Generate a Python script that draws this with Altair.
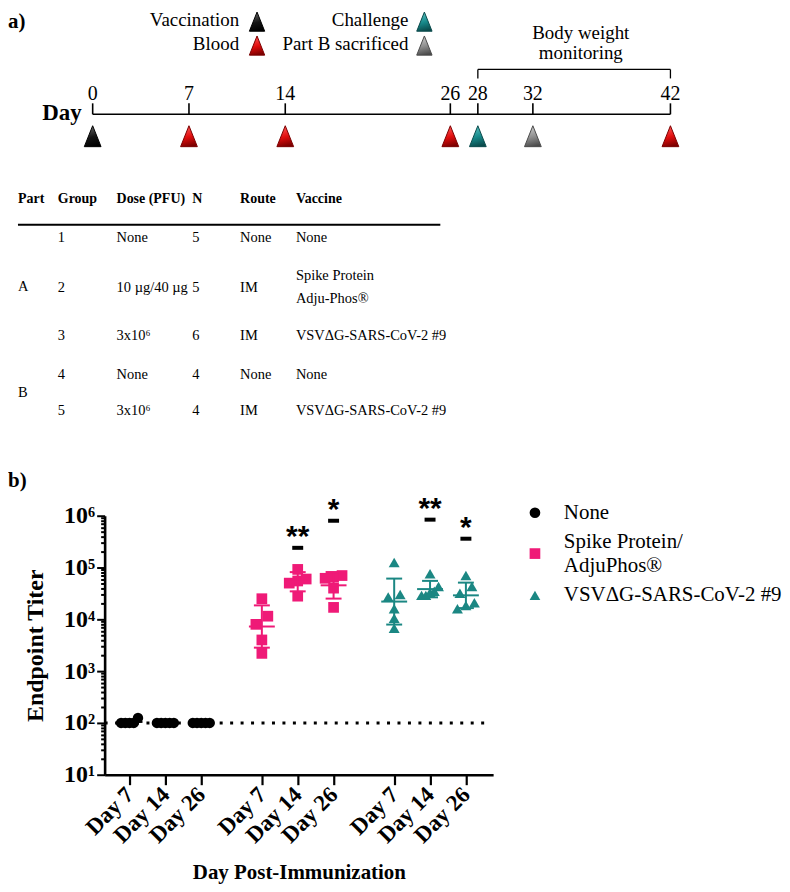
import json
import altair as alt
import pandas as pd

# ---------------- data ----------------
timeline_days = [0, 7, 14, 26, 28, 32, 42]
timeline_events = ["Vaccination", "Blood", "Blood", "Blood", "Challenge", "Part B sacrificed", "Blood"]
event_names = ["Vaccination", "Blood", "Challenge", "Part B sacrificed"]
event_colors = ["#151515", "#e00d0d", "#17898a", "#8e8e8e"]
event_lights = ["#6a6a6a", "#ff5a5a", "#5cc4c4", "#cfcfcf"]
event_edges = ["#000000", "#7a0000", "#0a4a4b", "#4a4a4a"]
monitoring_window = [28, 42]
monitoring_label = ["Body weight", "monitoring"]

table_header = ["Part", "Group", "Dose (PFU)", "N", "Route", "Vaccine"]
table_group = ["1", "2", "3", "4", "5"]
table_dose = ["None", "10 µg/40 µg", "3x10⁶", "None", "3x10⁶"]
table_n = ["5", "5", "6", "4", "4"]
table_route = ["None", "IM", "IM", "None", "IM"]
table_vaccine = ["None", "Spike Protein\nAdju-Phos®", "VSVΔG-SARS-CoV-2 #9", "None", "VSVΔG-SARS-CoV-2 #9"]
table_parts = ["A", "B"]
table_part_rows = [[0, 1, 2], [3, 4]]

groups = ["None", "Spike Protein/AdjuPhos®", "VSVΔG-SARS-CoV-2 #9"]
group_colors = ["#000000", "#ef1a77", "#1b8783"]
group_shapes = ["circle", "square", "triangle-up"]
day_labels = ["Day 7", "Day 14", "Day 26"]
titer_none = [[125, 100, 100, 100, 100], [100, 100, 100, 100, 100], [100, 100, 100, 100, 100]]
titer_spike = [[25000, 11500, 8000, 4000, 2200],
               [92000, 55000, 50000, 60000, 28000],
               [70000, 65000, 62000, 40000, 17000]]
titer_vsv = [[125000, 30000, 27000, 16000, 10500, 6700],
             [76000, 43000, 35000, 29000, 29000, 33000],
             [70000, 43000, 32000, 21000, 16000, 18500]]
limit_of_detection = 100
sig_group = [1, 1, 2, 2]
sig_day = [1, 2, 1, 2]
sig_text = ["**", "*", "**", "*"]
sig_height = [240000, 800000, 840000, 360000]

# ---------------- layout ----------------
SERIF = "Liberation Serif"
ORIGIN_X = 105
A_TOP = 11
B_TOP = 515


def ax(p):
    return p - ORIGIN_X


def ay(p):
    return p - A_TOP


def by(p):
    return p - B_TOP


TRI = "M0,-1L0.8,1L-0.8,1Z"


def bevel(i):
    return {"gradient": "linear", "x1": 0.3, "y1": 0, "x2": 0.5, "y2": 1,
            "stops": [{"offset": 0, "color": event_lights[i]},
                      {"offset": 0.55, "color": event_colors[i]},
                      {"offset": 1, "color": event_edges[i]}]}


# ================= panel a =================
x_days = alt.Scale(domain=[min(timeline_days), max(timeline_days)], range=[ax(93), ax(673)])
df_tl = pd.DataFrame({"day": timeline_days, "event": timeline_events})


def XD(field):
    return alt.X(field, scale=x_days, axis=None)


def text_mark(**kw):
    base = dict(font=SERIF, color="black", baseline="middle")
    base.update(kw)
    return base


a_layers = []
a_layers.append(alt.Chart(df_tl).mark_rule(color="black", strokeWidth=1.6).encode(
    x=XD("min(day):Q"), x2="max(day):Q", y=alt.value(ay(115))))
a_layers.append(alt.Chart(df_tl).mark_rule(color="black", strokeWidth=1.6).encode(
    x=XD("day:Q"), y=alt.value(ay(104)), y2=alt.value(ay(115))))
a_layers.append(alt.Chart(df_tl).mark_text(**text_mark(fontSize=20)).encode(
    x=XD("day:Q"), y=alt.value(ay(95)), text="day:Q"))
for i, name in enumerate(event_names):
    a_layers.append(alt.Chart(df_tl).transform_filter(alt.datum.event == name).mark_point(
        shape=TRI, filled=True, size=441, opacity=1, fill=bevel(i), stroke=event_edges[i],
        strokeWidth=1.0).encode(x=XD("day:Q"), y=alt.value(ay(137))))

# key of events (first row is pinned to the top edge of the panel)
key_text_right = [240, 410]
key_tri_x = [258, 426]
key_text_rel_y = [0, ay(44)]
key_text_base = ["top", "middle"]
key_tri_rel_y = [11, ay(46)]
for i, name in enumerate(event_names):
    col, row = i // 2, i % 2
    d1 = pd.DataFrame({"t": [name]})
    a_layers.append(alt.Chart(d1).mark_text(**text_mark(align="right", fontSize=19,
                                                        baseline=key_text_base[row])).encode(
        x=alt.value(ax(key_text_right[col])), y=alt.value(key_text_rel_y[row]), text="t:N"))
    a_layers.append(alt.Chart(d1).mark_point(shape=TRI, filled=True, size=370, opacity=1,
                                             fill=bevel(i), stroke=event_edges[i],
                                             strokeWidth=1.0).encode(
        x=alt.value(ax(key_tri_x[col])), y=alt.value(key_tri_rel_y[row])))

# monitoring bracket
df_mon = pd.DataFrame({"day": monitoring_window})
a_layers.append(alt.Chart(df_mon).mark_rule(color="black", strokeWidth=1.3).encode(
    x=XD("min(day):Q"), x2="max(day):Q", y=alt.value(ay(70))))
a_layers.append(alt.Chart(df_mon).mark_rule(color="black", strokeWidth=1.3).encode(
    x=XD("day:Q"), y=alt.value(ay(70)), y2=alt.value(ay(79))))
for j, line in enumerate(monitoring_label):
    a_layers.append(alt.Chart(pd.DataFrame({"t": [line]})).mark_text(
        **text_mark(fontSize=19, align="center")).encode(
        x=alt.value(ax(583)), y=alt.value(ay(33 + 20 * j)), text="t:N"))

a_layers.append(alt.Chart(pd.DataFrame({"t": ["Day"]})).mark_text(
    **text_mark(fontSize=23, fontWeight="bold", align="right")).encode(
    x=alt.value(ax(82)), y=alt.value(ay(114)), text="t:N"))
a_layers.append(alt.Chart(pd.DataFrame({"t": ["a)"]})).mark_text(
    **text_mark(fontSize=21, fontWeight="bold", align="left", baseline="top")).encode(
    x=alt.value(ax(8)), y=alt.value(0), text="t:N"))

# table
col_x = [18, 58, 117, 193, 241, 297]
header_y = 200
rule_y = 226
row_y = [239, 289, 338, 377, 413]
TFS = 14.5
LH = 23

df_head = pd.DataFrame({"t": table_header, "i": list(range(len(table_header)))})
a_layers.append(alt.Chart(df_head).transform_calculate(
    tx=f"{json.dumps([ax(v) for v in col_x])}[datum.i]"
).mark_text(**text_mark(fontSize=14, fontWeight="bold", align="left")).encode(
    x=alt.X("tx:Q", scale=None), y=alt.value(ay(header_y)), text="t:N"))
a_layers.append(alt.Chart(pd.DataFrame({"t": [0]})).mark_rule(color="black", strokeWidth=2).encode(
    x=alt.value(ax(18)), x2=alt.value(ax(442)), y=alt.value(ay(rule_y))))

df_table = pd.DataFrame({"row": list(range(len(table_group))), "group": table_group, "dose": table_dose,
                         "n": table_n, "route": table_route, "vaccine": table_vaccine})
row_expr = f"{json.dumps([ay(v) for v in row_y])}[datum.row]"
for field, cx in zip(["group", "dose", "n", "route", "vaccine"], col_x[1:]):
    a_layers.append(alt.Chart(df_table).transform_calculate(
        ty=f"{row_expr} - (length(split(datum.{field}, '\\n')) - 1) * {LH / 2}"
    ).mark_text(**text_mark(fontSize=TFS, align="left", lineBreak="\n", lineHeight=LH)).encode(
        x=alt.value(ax(cx)), y=alt.Y("ty:Q", scale=None), text=f"{field}:N"))

part_y = [sum(row_y[r] for r in rows) / len(rows) for rows in table_part_rows]
df_parts = pd.DataFrame({"part": table_parts, "i": [0, 1]})
a_layers.append(alt.Chart(df_parts).transform_calculate(
    ty=f"{json.dumps([ay(v) for v in part_y])}[datum.i]"
).mark_text(**text_mark(fontSize=TFS, align="left")).encode(
    x=alt.value(ax(col_x[0])), y=alt.Y("ty:Q", scale=None), text="part:N"))

panel_a = alt.layer(*a_layers).resolve_scale(x="independent", y="independent").properties(
    width=670, height=461)

# ================= panel b =================
rows = []
for gi, series in enumerate([titer_none, titer_spike, titer_vsv]):
    for di, vals in enumerate(series):
        for v in vals:
            rows.append({"group": groups[gi], "g": gi, "d": di, "value": v})
df_pts = pd.DataFrame(rows)

GAP = 3.69
UNIT_PX = 36.0
WIDTH_B = 390
HEIGHT_B = 260
XMIN = -25 / UNIT_PX
XMAX = XMIN + WIDTH_B / UNIT_PX
pos_expr = f"datum.g * {GAP} + datum.d"
CLOSE = 0.17  # decades: points closer than this are spread sideways

tick_vals = [g * GAP + d for g in range(3) for d in range(3)]
tick_labels = day_labels * 3
x_label_expr = (f"{json.dumps(tick_labels)}[indexof({json.dumps([round(v * 100) for v in tick_vals])}, "
                f"round(datum.value * 100))]")

x_scale = alt.Scale(domain=[XMIN, XMAX], nice=False, zero=False)
x_axis = alt.Axis(values=tick_vals, labelExpr=x_label_expr, labelAngle=-45, labelAlign="right",
                  labelBaseline="middle", labelFont=SERIF, labelFontSize=23, labelFontWeight="bold",
                  labelColor="black", labelPadding=6, labelOverlap=False, labelBound=False,
                  tickSize=10, tickWidth=2.2, tickColor="black",
                  domainWidth=2.6, domainColor="black", grid=False, title="Day Post-Immunization",
                  titleFont=SERIF, titleFontSize=21, titleFontWeight="bold", titleColor="black",
                  titlePadding=14)

sups = ["⁰", "¹", "²", "³", "⁴", "⁵", "⁶"]
major_test = "abs(log(datum.value)/LN10 - round(log(datum.value)/LN10)) < 0.001"
y_label_expr = f"{major_test} ? '10' + {json.dumps(sups, ensure_ascii=False)}[round(log(datum.value)/LN10)] : ''"
y_values = [k * 10 ** e for e in range(1, 6) for k in range(1, 10)] + [10 ** 6]
y_scale = alt.Scale(type="log", domain=[10, 10 ** 6], nice=False)
y_axis = alt.Axis(values=y_values, labelExpr=y_label_expr, labelFont=SERIF, labelFontSize=24,
                  labelFontWeight="bold", labelColor="black", labelPadding=2, labelOverlap=False,
                  tickSize={"condition": {"test": major_test, "value": 8}, "value": 4},
                  tickWidth=2, tickColor="black", domainWidth=2.6, domainColor="black", grid=False,
                  title="Endpoint Titer", titleFont=SERIF, titleFontSize=24, titleFontWeight="bold",
                  titleColor="black", titlePadding=16)


def XB(field):
    return alt.X(field, scale=x_scale, axis=x_axis)


def YB(field):
    return alt.Y(field, scale=y_scale, axis=y_axis)


color_scale = alt.Scale(domain=groups, range=group_colors)
color_enc = alt.Color("group:N", scale=color_scale, legend=None)
shape_enc = alt.Shape("group:N", scale=alt.Scale(domain=groups, range=group_shapes), legend=None)
size_enc = alt.Size("group:N", scale=alt.Scale(domain=groups, range=[110, 121, 169]), legend=None)

lod_rule = alt.Chart(pd.DataFrame({"lod": [limit_of_detection]})).mark_rule(
    color="black", strokeWidth=3, strokeDash=[3, 7.5]).encode(
    y=YB("lod:Q"), x=alt.value(0), x2=alt.value(383))

points = alt.Chart(df_pts).transform_calculate(
    lg="log(datum.value)/LN10"
).transform_window(
    prev="lag(lg)", groupby=["g", "d"], sort=[alt.SortField("lg", order="ascending")]
).transform_calculate(
    start=f"isValid(datum.prev) && (datum.lg - datum.prev) < {CLOSE} ? 0 : 1"
).transform_window(
    cluster="sum(start)", groupby=["g", "d"], sort=[alt.SortField("lg", order="ascending")]
).transform_window(
    n="count()", rk="row_number()", groupby=["g", "d", "cluster"],
    sort=[alt.SortField("lg", order="ascending")], frame=[None, None]
).transform_calculate(
    sp=f"datum.n > 1 ? min(12, 17 / (datum.n - 1)) / {UNIT_PX} : 0"
).transform_calculate(
    xpos=f"{pos_expr} + (datum.rk - (datum.n + 1) / 2) * datum.sp"
).mark_point(filled=True, opacity=1).encode(
    x=XB("xpos:Q"), y=YB("value:Q"), color=color_enc, shape=shape_enc, size=size_enc)

stats = alt.Chart(df_pts).transform_calculate(
    lg="log(datum.value)/LN10"
).transform_aggregate(
    m="mean(lg)", s="stdev(lg)", groupby=["group", "g", "d"]
).transform_calculate(
    xpos=pos_expr, gm="pow(10, datum.m)", lo="pow(10, datum.m - datum.s)", hi="pow(10, datum.m + datum.s)"
)
eb_v = stats.mark_rule(strokeWidth=2, opacity=1).encode(x=XB("xpos:Q"), y=YB("lo:Q"), y2="hi:Q", color=color_enc)
eb_mean = stats.mark_tick(orient="horizontal", size=26, thickness=2, opacity=1).encode(
    x=XB("xpos:Q"), y=YB("gm:Q"), color=color_enc)
eb_lo = stats.mark_tick(orient="horizontal", size=16, thickness=2, opacity=1).encode(
    x=XB("xpos:Q"), y=YB("lo:Q"), color=color_enc)
eb_hi = stats.mark_tick(orient="horizontal", size=16, thickness=2, opacity=1).encode(
    x=XB("xpos:Q"), y=YB("hi:Q"), color=color_enc)

df_sig = pd.DataFrame({"g": sig_group, "d": sig_day, "t": sig_text, "h": sig_height})
sig_base = alt.Chart(df_sig).transform_calculate(xpos=pos_expr)
sig_bar = sig_base.mark_tick(orient="horizontal", size=11, thickness=4, color="black", opacity=1).encode(
    x=XB("xpos:Q"), y=YB("h:Q"))
sig_star = sig_base.mark_text(font="Liberation Sans", fontWeight="bold", fontSize=30, baseline="middle",
                              dy=-11, color="black").encode(x=XB("xpos:Q"), y=YB("h:Q"), text="t:N")

b_layers = [lod_rule, points, eb_v, eb_mean, eb_lo, eb_hi, sig_bar, sig_star]

b_layers.append(alt.Chart(pd.DataFrame({"t": ["b)"]})).mark_text(
    **text_mark(fontSize=21, fontWeight="bold", align="left")).encode(
    x=alt.value(ax(8)), y=alt.value(by(480)), text="t:N"))

# key for panel b
key_sym_x = 537
key_lab_x = 566
key_y = [512, 553, 595]
KEY_LH = 24
for i, name in enumerate(groups):
    lines = name.replace("/", "/\n")
    nl = lines.count("\n")
    b_layers.append(alt.Chart(pd.DataFrame({"t": [name]})).mark_point(
        shape=group_shapes[i], filled=True, opacity=1, size=115, color=group_colors[i]).encode(
        x=alt.value(ax(key_sym_x)), y=alt.value(by(key_y[i]))))
    b_layers.append(alt.Chart(pd.DataFrame({"t": [lines]})).mark_text(
        **text_mark(fontSize=21, align="left", lineBreak="\n", lineHeight=KEY_LH)).encode(
        x=alt.value(ax(key_lab_x)), y=alt.value(by(key_y[i]) - nl * KEY_LH / 2), text="t:N"))

panel_b = alt.layer(*b_layers).properties(width=WIDTH_B, height=HEIGHT_B)

chart = alt.vconcat(panel_a, panel_b, spacing=0).resolve_scale(
    x="independent", y="independent", color="independent", shape="independent", size="independent"
).properties(
    padding={"left": 0, "right": 0, "top": 0, "bottom": 0}
).configure(font=SERIF).configure_view(stroke=None)

chart.save("out.html", embed_options={"renderer": "svg", "actions": False})
